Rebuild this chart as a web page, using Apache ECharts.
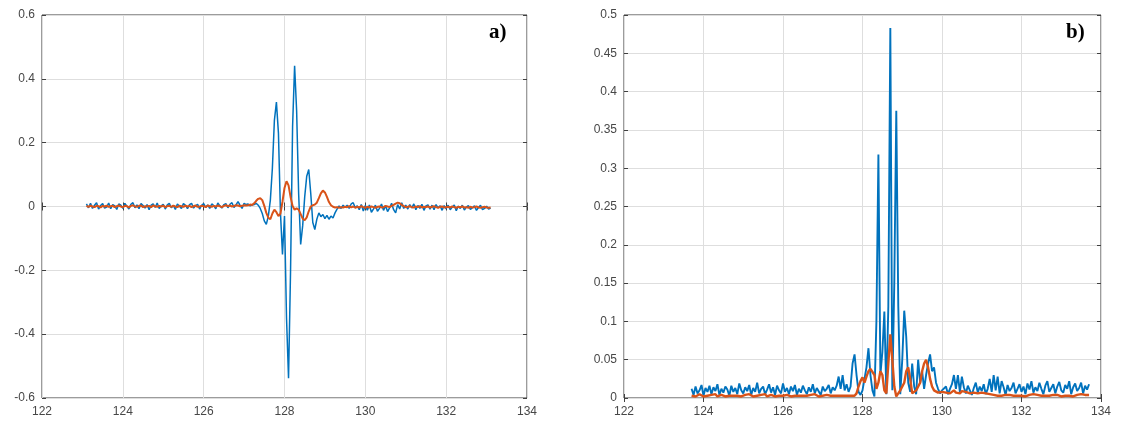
<!DOCTYPE html>
<html>
<head>
<meta charset="utf-8">
<script src="https://cdn.jsdelivr.net/npm/echarts@6/dist/echarts.min.js"></script>
<style>
html,body{margin:0;padding:0;background:#fff;}
#c{width:1132px;height:427px;}
</style>
</head>
<body>
<div id="c"></div>
<script>
// ---------- Panel a) sample positions ----------
var xa = [
123.1,123.15,123.2,123.25,123.3,123.35,123.4,123.45,123.5,123.55,
123.6,123.65,123.7,123.75,123.8,123.85,123.9,123.95,124,124.05,
124.1,124.15,124.2,124.25,124.3,124.35,124.4,124.45,124.5,124.55,
124.6,124.65,124.7,124.75,124.8,124.85,124.9,124.95,125,125.05,
125.1,125.15,125.2,125.25,125.3,125.35,125.4,125.45,125.5,125.55,
125.6,125.65,125.7,125.75,125.8,125.85,125.9,125.95,126,126.05,
126.1,126.15,126.2,126.25,126.3,126.35,126.4,126.45,126.5,126.55,
126.6,126.65,126.7,126.75,126.8,126.85,126.9,126.95,127,127.05,
127.1,127.15,127.2,127.25,127.3,127.35,127.4,127.45,127.5,127.55,
127.6,127.65,127.7,127.75,127.8,127.85,127.9,127.95,128,128.05,
128.1,128.15,128.2,128.25,128.3,128.35,128.4,128.45,128.5,128.55,
128.6,128.65,128.7,128.75,128.8,128.85,128.9,128.95,129,129.05,
129.1,129.15,129.2,129.25,129.3,129.35,129.4,129.45,129.5,129.55,
129.6,129.65,129.7,129.75,129.8,129.85,129.9,129.95,130,130.05,
130.1,130.15,130.2,130.25,130.3,130.35,130.4,130.45,130.5,130.55,
130.6,130.65,130.7,130.75,130.8,130.85,130.9,130.95,131,131.05,
131.1,131.15,131.2,131.25,131.3,131.35,131.4,131.45,131.5,131.55,
131.6,131.65,131.7,131.75,131.8,131.85,131.9,131.95,132,132.05,
132.1,132.15,132.2,132.25,132.3,132.35,132.4,132.45,132.5,132.55,
132.6,132.65,132.7,132.75,132.8,132.85,132.9,132.95,133,133.05,
133.1];
var blueA = [
0.008,-0.004,0.010,-0.006,0.004,0.012,-0.008,0.003,0.009,-0.005,
-0.002,0.011,-0.007,0.006,0.002,-0.009,0.008,0.004,-0.006,0.010,
0.001,-0.008,0.007,0.012,-0.004,0.005,-0.007,0.009,0.003,-0.005,
0.006,-0.010,0.004,0.008,-0.003,0.011,-0.006,0.002,0.007,-0.008,
0.005,0.010,-0.004,0.003,-0.009,0.008,0.001,-0.006,0.009,0.004,
-0.007,0.006,0.010,-0.005,0.002,0.007,-0.008,0.004,0.009,-0.003,
0.005,-0.006,0.008,0.003,-0.007,0.011,0.002,-0.005,0.006,0.009,
-0.004,0.007,0.012,-0.003,0.005,0.015,0.004,-0.006,0.010,0.006,
0.008,0.002,0.005,
0.006,0.010,0.004,-0.006,-0.022,-0.045,-0.056,-0.030,0.020,0.120,
0.270,0.327,0.230,-0.020,-0.150,-0.030,-0.350,-0.538,-0.200,0.250,
0.441,0.300,0.040,-0.119,-0.060,0.030,0.095,0.116,0.040,-0.050,
-0.072,-0.040,-0.020,-0.032,-0.025,-0.038,-0.028,-0.040,-0.030,-0.036,
-0.020,-0.008,0.002,-0.006,0.004,-0.003,
0.004,-0.006,0.008,0.012,-0.004,0.002,-0.010,0.006,-0.014,0.003,
-0.012,0.005,-0.018,-0.008,0.004,-0.015,-0.006,0.008,-0.012,0.002,
-0.016,-0.004,0.010,-0.010,-0.020,0.006,-0.008,0.012,-0.006,0.004,
-0.008,0.006,-0.004,0.008,-0.010,0.003,-0.006,0.007,-0.012,0.002,
0.005,-0.008,0.004,-0.010,0.006,-0.004,0.002,-0.012,0.003,-0.007,
0.004,-0.010,-0.002,0.005,-0.013,0.001,-0.006,0.004,-0.011,-0.002,
0.003,-0.009,-0.004,0.002,-0.012,-0.003,0.004,-0.010,-0.006,0.001,
-0.008,-0.005];
var orangeA = [
0.002,-0.001,0.003,0.000,-0.002,0.002,0.001,-0.003,0.002,0.000,
0.003,-0.001,0.001,0.002,-0.002,0.001,0.003,0.000,-0.002,0.002,
0.001,-0.003,0.002,0.004,0.000,-0.001,0.002,0.003,-0.002,0.001,
0.000,0.002,-0.002,0.003,0.001,-0.001,0.002,0.000,0.003,-0.002,
0.001,0.002,-0.001,0.003,0.000,-0.002,0.002,0.001,-0.001,0.003,
0.000,0.002,-0.002,0.001,0.003,-0.001,0.000,0.002,0.001,-0.002,
0.003,0.001,-0.001,0.002,0.000,0.003,0.001,-0.002,0.002,0.004,
0.001,0.003,0.000,0.002,0.004,0.003,0.001,0.002,0.004,0.003,
0.004,0.006,0.005,
0.010,0.018,0.024,0.026,0.020,0.002,-0.020,-0.035,-0.040,-0.022,
-0.010,-0.018,-0.030,-0.022,0.015,0.058,0.079,0.066,0.030,0.002,
-0.010,-0.006,-0.010,-0.024,-0.038,-0.043,-0.034,-0.015,0.000,0.004,
0.006,0.012,0.026,0.041,0.050,0.044,0.030,0.014,0.004,-0.001,
-0.003,-0.002,-0.004,-0.002,-0.003,-0.001,
-0.002,0.001,-0.003,0.000,-0.004,-0.001,-0.003,0.001,-0.002,-0.004,
-0.001,-0.003,0.000,-0.002,-0.004,-0.001,0.000,-0.003,-0.002,0.002,
0.000,-0.002,0.002,0.005,0.009,0.012,0.010,0.005,0.001,-0.002,
-0.001,0.001,-0.002,-0.003,0.000,-0.002,0.001,-0.003,-0.001,-0.002,
0.000,-0.003,-0.001,0.001,-0.002,-0.004,-0.001,0.000,-0.003,-0.002,
-0.001,-0.003,0.000,-0.002,-0.004,-0.001,-0.002,0.000,-0.003,-0.002,
-0.004,-0.001,-0.003,-0.002,0.000,-0.003,-0.004,-0.002,-0.001,-0.003,
-0.004,-0.003];

// ---------- Panel b) sample positions ----------
var xb = [
123.7,123.75,123.8,123.85,123.9,123.95,124,124.05,124.1,124.15,
124.2,124.25,124.3,124.35,124.4,124.45,124.5,124.55,124.6,124.65,
124.7,124.75,124.8,124.85,124.9,124.95,125,125.05,125.1,125.15,
125.2,125.25,125.3,125.35,125.4,125.45,125.5,125.55,125.6,125.65,
125.7,125.75,125.8,125.85,125.9,125.95,126,126.05,126.1,126.15,
126.2,126.25,126.3,126.35,126.4,126.45,126.5,126.55,126.6,126.65,
126.7,126.75,126.8,126.85,126.9,126.95,127,127.05,127.1,127.15,
127.2,127.25,127.3,127.35,127.4,127.45,127.5,127.55,127.6,127.65,
127.7,127.75,127.8,127.85,127.9,127.95,128,128.05,128.1,128.15,
128.2,128.25,128.3,128.35,128.4,128.45,128.5,128.55,128.6,128.65,
128.7,128.75,128.8,128.85,128.9,128.95,129,129.05,129.1,129.15,
129.2,129.25,129.3,129.35,129.4,129.45,129.5,129.55,129.6,129.65,
129.7,129.75,129.8,129.85,129.9,129.95,130,130.05,130.1,130.15,
130.2,130.25,130.3,130.35,130.4,130.45,130.5,130.55,130.6,130.65,
130.7,130.75,130.8,130.85,130.9,130.95,131,131.05,131.1,131.15,
131.2,131.25,131.3,131.35,131.4,131.45,131.5,131.55,131.6,131.65,
131.7,131.75,131.8,131.85,131.9,131.95,132,132.05,132.1,132.15,
132.2,132.25,132.3,132.35,132.4,132.45,132.5,132.55,132.6,132.65,
132.7,132.75,132.8,132.85,132.9,132.95,133,133.05,133.1,133.15,
133.2,133.25,133.3,133.35,133.4,133.45,133.5,133.55,133.6,133.65,
133.7];
var blueB = [
0.012,0.004,0.015,0.006,0.010,0.017,0.003,0.013,0.008,0.016,
0.005,0.014,0.009,0.018,0.004,0.012,0.007,0.015,0.011,0.003,
0.016,0.008,0.013,0.005,0.019,0.010,0.006,0.014,0.009,0.017,
0.004,0.013,0.008,0.020,0.006,0.012,0.015,0.005,0.011,0.018,
0.007,0.014,0.004,0.016,0.010,0.006,0.019,0.008,0.013,0.005,
0.015,0.009,0.017,0.004,0.012,0.007,0.016,0.010,0.005,0.014,
0.008,0.018,0.006,0.013,0.011,0.004,0.015,0.009,0.012,0.017,
0.006,0.014,0.010,0.016,
0.028,0.012,0.030,0.010,0.018,0.008,0.015,0.045,0.057,0.030,
0.008,0.004,0.010,0.025,0.040,0.065,0.030,0.010,0.002,0.100,
0.318,0.030,0.060,0.113,0.005,0.120,0.483,0.010,0.150,0.375,
0.120,0.005,0.050,0.114,0.080,0.020,0.008,0.045,0.015,0.005,
0.050,0.020,0.035,0.012,0.030,0.045,0.057,0.035,0.040,0.020,
0.012,0.006,0.010,
0.008,0.015,0.005,0.012,0.018,0.030,0.012,0.030,0.008,0.028,
0.014,0.006,0.016,0.010,0.004,0.013,0.020,0.007,0.015,0.009,
0.018,0.005,0.012,0.025,0.008,0.030,0.010,0.028,0.006,0.022,
0.014,0.004,0.017,0.009,0.013,0.020,0.006,0.012,0.018,0.008,
0.015,0.005,0.019,0.011,0.022,0.007,0.014,0.009,0.020,0.012,
0.005,0.016,0.022,0.008,0.013,0.018,0.006,0.015,0.021,0.010,
0.007,0.017,0.012,0.022,0.005,0.014,0.019,0.009,0.013,0.020,
0.006,0.016,0.011,0.018];
var orangeB = [
0.003,0.004,0.002,0.003,0.005,0.003,0.002,0.004,0.003,0.002,
0.004,0.003,0.005,0.002,0.003,0.004,0.003,0.002,0.004,0.003,
0.002,0.003,0.005,0.003,0.004,0.002,0.003,0.004,0.003,0.005,
0.003,0.002,0.004,0.003,0.002,0.004,0.003,0.005,0.002,0.003,
0.004,0.003,0.002,0.004,0.003,0.005,0.003,0.002,0.004,0.003,
0.002,0.004,0.003,0.005,0.003,0.002,0.003,0.004,0.003,0.002,
0.004,0.003,0.005,0.003,0.002,0.004,0.003,0.003,0.004,0.002,
0.003,0.004,0.003,0.002,
0.003,0.004,0.003,0.002,0.003,0.004,0.003,0.002,0.003,0.006,
0.015,0.022,0.027,0.020,0.028,0.035,0.038,0.040,0.030,0.012,
0.020,0.035,0.030,0.010,0.006,0.045,0.083,0.050,0.015,0.002,
0.004,0.010,0.008,0.020,0.035,0.040,0.025,0.006,0.004,0.010,
0.008,0.020,0.035,0.045,0.050,0.040,0.025,0.015,0.010,0.008,
0.007,0.009,0.008,
0.008,0.007,0.009,0.006,0.008,0.010,0.007,0.008,0.006,0.009,
0.007,0.008,0.010,0.006,0.008,0.007,0.009,0.006,0.008,0.007,
0.005,0.006,0.004,0.005,0.003,0.004,0.005,0.003,0.004,0.003,
0.005,0.004,0.003,0.004,0.002,0.003,0.004,0.003,0.005,0.003,
0.004,0.002,0.003,0.004,0.003,0.005,0.003,0.004,0.002,0.003,
0.004,0.003,0.005,0.003,0.002,0.004,0.003,0.004,0.003,0.002,
0.004,0.003,0.005,0.003,0.004,0.002,0.003,0.004,0.003,0.005,
0.003,0.004,0.003,0.004];

// axis tick settings
var xTicksMin = 122, xTicksMax = 134, xStep = 2;
var yaMin = -0.6, yaMax = 0.6, yaStep = 0.2;
var ybMin = 0, ybMax = 0.5, ybStep = 0.05;
var panelLabels = ['a)', 'b)'];

var BLUE = '#0072BD', ORANGE = '#D95319';

function zip(xs, ys) { var out = []; for (var i = 0; i < xs.length; i++) out.push([xs[i], ys[i]]); return out; }

var labelStyle = { color: '#474747', fontSize: 12, fontFamily: 'Liberation Sans, Arial, sans-serif' };
function xAx(gi, pos, showLbl) {
  return {
    type: 'value', gridIndex: gi, position: pos, min: xTicksMin, max: xTicksMax, interval: xStep,
    axisLine: { show: false },
    axisTick: { show: true, inside: true, length: 4, lineStyle: { color: '#404040' } },
    axisLabel: Object.assign({ show: showLbl, margin: 8 }, labelStyle),
    splitLine: { show: showLbl, lineStyle: { color: '#dedede', width: 1 } }
  };
}
function yAx(gi, pos, mn, mx, st, showLbl) {
  return {
    type: 'value', gridIndex: gi, position: pos, min: mn, max: mx, interval: st,
    axisLine: { show: false },
    axisTick: { show: true, inside: true, length: 4, lineStyle: { color: '#404040' } },
    axisLabel: Object.assign({ show: showLbl, margin: 7 }, labelStyle),
    splitLine: { show: showLbl, lineStyle: { color: '#dedede', width: 1 } }
  };
}

var chart = echarts.init(document.getElementById('c'), null, { renderer: 'canvas' });
chart.setOption({
  animation: false,
  backgroundColor: '#ffffff',
  grid: [
    { left: 42, top: 15, width: 485, height: 383, show: true, borderColor: '#383838', borderWidth: 1, backgroundColor: 'transparent' },
    { left: 624, top: 15, width: 477, height: 383, show: true, borderColor: '#383838', borderWidth: 1, backgroundColor: 'transparent' }
  ],
  xAxis: [ xAx(0, 'bottom', true), xAx(1, 'bottom', true), xAx(0, 'top', false), xAx(1, 'top', false) ],
  yAxis: [
    yAx(0, 'left', yaMin, yaMax, yaStep, true),
    yAx(1, 'left', ybMin, ybMax, ybStep, true),
    yAx(0, 'right', yaMin, yaMax, yaStep, false),
    yAx(1, 'right', ybMin, ybMax, ybStep, false)
  ],
  series: [
    { type: 'line', xAxisIndex: 0, yAxisIndex: 0, data: zip(xa, blueA), showSymbol: false, symbol: 'none',
      lineStyle: { color: BLUE, width: 1.5 }, itemStyle: { color: BLUE } },
    { type: 'line', xAxisIndex: 0, yAxisIndex: 0, data: zip(xa, orangeA), showSymbol: false, symbol: 'none',
      lineStyle: { color: ORANGE, width: 2 }, itemStyle: { color: ORANGE } },
    { type: 'line', xAxisIndex: 1, yAxisIndex: 1, data: zip(xb, blueB), showSymbol: false, symbol: 'none',
      lineStyle: { color: BLUE, width: 1.9 }, itemStyle: { color: BLUE } },
    { type: 'line', xAxisIndex: 1, yAxisIndex: 1, data: zip(xb, orangeB), showSymbol: false, symbol: 'none',
      lineStyle: { color: ORANGE, width: 2.4 }, itemStyle: { color: ORANGE } }
  ],
  graphic: [
    { type: 'text', left: 489, top: 22, style: { text: panelLabels[0], fill: '#000', font: 'bold 21px "Liberation Serif", "Times New Roman", serif' } },
    { type: 'text', left: 1066, top: 22, style: { text: panelLabels[1], fill: '#000', font: 'bold 21px "Liberation Serif", "Times New Roman", serif' } }
  ]
});
</script>
</body>
</html>
